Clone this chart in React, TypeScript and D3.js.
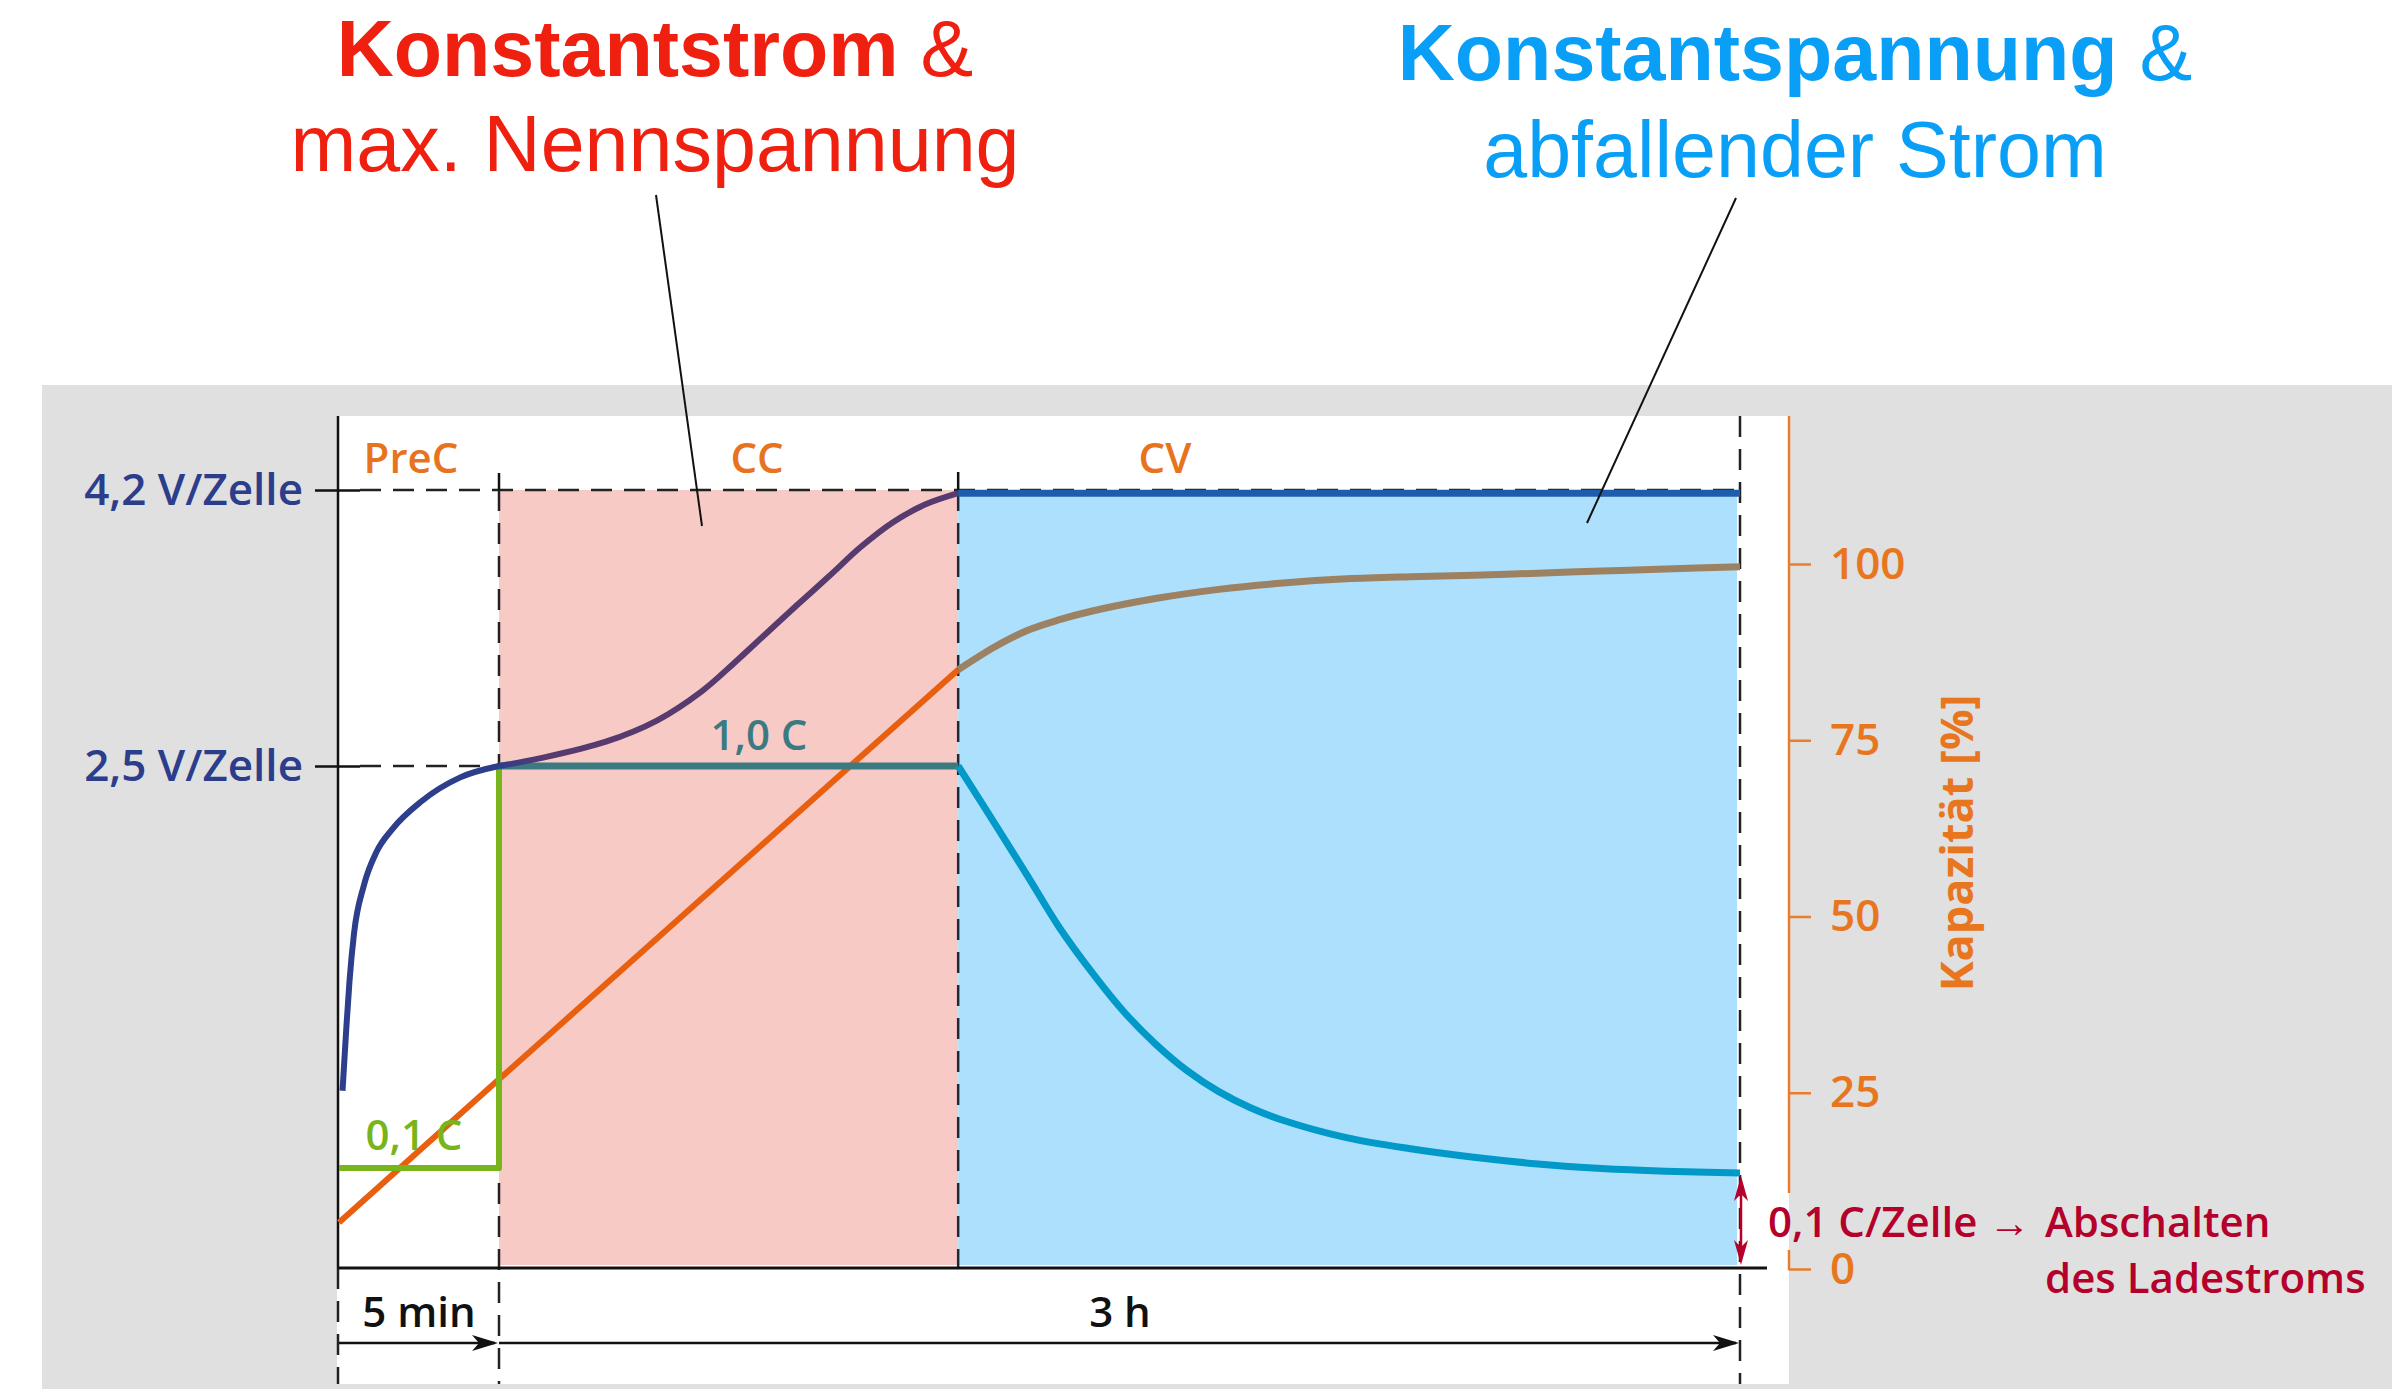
import React, { useEffect, useRef } from 'react';
import * as d3 from 'd3';

// time in minutes: 5 min pre-charge, then 3 h (CC + CV)
const phaseNames = ['PreC', 'CC', 'CV'];
const phaseBounds = [0, 5, 71.6, 185];

// cell voltage (V)
const voltPreT = [0.11, 0.23, 0.33, 0.47, 0.77, 1.17, 1.66, 2.56, 3.79, 5];
const voltPreV = [0.5, 0.89, 1.18, 1.47, 1.76, 1.97, 2.11, 2.28, 2.43, 2.5];
const voltCCT = [5, 11.2, 20.5, 27.9, 34.4, 39.0, 43.6, 48.2, 52.9, 57.5, 62.1, 66.8, 71.6];
const voltCCV = [2.5, 2.55, 2.65, 2.78, 2.96, 3.13, 3.31, 3.49, 3.67, 3.85, 4.0, 4.11, 4.18];
const voltCV = 4.18;
const voltTicks = [4.2, 2.5];
const voltLabels = ['4,2 V/Zelle', '2,5 V/Zelle'];

// charge current (C)
const currPre = 0.1;
const currCC = 1.0;
const currCVT = [71.6, 77.0, 81.7, 86.3, 90.9, 95.5, 100.2, 104.8, 109.4, 114.0, 118.7, 127.9, 137.2, 146.4, 155.7, 164.9, 174.2, 185];
const currCVI = [1.0, 0.869, 0.753, 0.638, 0.54, 0.452, 0.378, 0.318, 0.271, 0.235, 0.207, 0.168, 0.143, 0.124, 0.109, 0.099, 0.093, 0.089];

// capacity (%)
const capLinT = [0, 5, 71.6];
const capLin = [6.6, 26.9, 85.0];
const capCVT = [71.6, 77.0, 81.7, 86.3, 90.9, 100.2, 109.4, 118.7, 127.9, 137.2, 146.4, 155.7, 164.9, 174.2, 185];
const capCV = [85.0, 88.3, 90.6, 92.1, 93.3, 95.1, 96.4, 97.3, 97.9, 98.2, 98.4, 98.7, 99.0, 99.3, 99.6];
const capTicks = [0, 25, 50, 75, 100];

const FONT = '"Open Sans", "Noto Sans", sans-serif';
const TITLE_FONT = '"Liberation Sans", Arial, sans-serif';
const LW = 600;

const App = () => {
  const svgRef = useRef(null);

  useEffect(() => {
    const svg = d3.select(svgRef.current);
    svg.selectAll('*').remove();

    const x = d3.scaleLinear().domain([0, 5, 185]).range([339, 499, 1740]);
    const yV = d3.scaleLinear().domain([2.5, 4.2]).range([766, 490]);
    const yI = d3.scaleLinear().domain([0.1, 1.0]).range([1168, 766]);
    const yC = d3.scaleLinear().domain([0, 100]).range([1269, 564]);
    const axisY = 1268;
    const xEnd = x(185);
    const xPre = x(phaseBounds[1]);
    const xCV = x(phaseBounds[2]);

    const defs = svg.append('defs');
    const grad = defs.append('linearGradient')
      .attr('id', 'vgrad')
      .attr('gradientUnits', 'userSpaceOnUse')
      .attr('x1', xPre).attr('x2', xPre + 45).attr('y1', 0).attr('y2', 0);
    grad.append('stop').attr('offset', 0).attr('stop-color', '#2c3e8c');
    grad.append('stop').attr('offset', 1).attr('stop-color', '#573a6e');

    // backgrounds
    svg.append('rect').attr('width', 2392).attr('height', 1389).attr('fill', '#fff');
    svg.append('rect').attr('x', 42).attr('y', 385).attr('width', 2350).attr('height', 1004).attr('fill', '#e0e0e0');
    svg.append('rect').attr('x', 337).attr('y', 416).attr('width', 1789 - 337).attr('height', 1384 - 416).attr('fill', '#fff');

    // phase regions
    const top = yV(4.2);
    svg.append('rect').attr('x', xPre).attr('y', top).attr('width', xCV - xPre).attr('height', 1265 - top).attr('fill', '#f8cac6');
    svg.append('rect').attr('x', xCV).attr('y', top).attr('width', xEnd - 3 - xCV).attr('height', 1265 - top).attr('fill', '#ade0fd');

    const dash = '21 12';
    const line = (x1, y1, x2, y2, stroke, w, da) => {
      const l = svg.append('line').attr('x1', x1).attr('y1', y1).attr('x2', x2).attr('y2', y2)
        .attr('stroke', stroke).attr('stroke-width', w);
      if (da) l.attr('stroke-dasharray', da);
      return l;
    };

    // guide lines
    line(360, yV(4.2), xEnd, yV(4.2), '#222', 2.5, dash);
    line(360, yV(2.5), xPre, yV(2.5), '#222', 2.5, dash);
    line(xPre, 473, xPre, top, '#111', 2.5);
    line(xPre, top, xPre, 1384, '#222', 2.5, dash);
    line(xCV, 472, xCV, top, '#111', 2.5);
    line(xCV, top, xCV, axisY, '#1d2a3a', 2.5, dash);
    line(xEnd, 416, xEnd, 1384, '#222', 2.5, dash);
    line(x(0) - 1, 416, x(0) - 1, axisY, '#111', 2.5);
    line(x(0) - 1, axisY, x(0) - 1, 1384, '#222', 2.5, dash);
    line(x(0) - 1, axisY, 1767, axisY, '#111', 3);

    // left axis (voltage)
    const leftAxis = svg.append('g')
      .attr('transform', 'translate(360,0)')
      .call(d3.axisLeft(yV).tickValues(voltTicks).tickSize(45).tickPadding(12)
        .tickFormat((d, i) => voltLabels[i]));
    leftAxis.select('.domain').remove();
    leftAxis.selectAll('line').attr('stroke', '#111').attr('stroke-width', 2.5);
    leftAxis.selectAll('text').attr('fill', '#2b3d8b').style('font-family', FONT)
      .style('font-size', '44px').style('font-weight', LW);

    // right axis (capacity)
    const rightAxis = svg.append('g')
      .attr('transform', 'translate(1789,0)')
      .call(d3.axisRight(yC).tickValues(capTicks).tickSize(22).tickPadding(19));
    rightAxis.select('.domain').remove();
    rightAxis.selectAll('line').attr('stroke', '#ea7d2c').attr('stroke-width', 2.5);
    rightAxis.selectAll('text').attr('fill', '#e8761e').style('font-family', FONT)
      .style('font-size', '44px').style('font-weight', LW);
    line(1789, 416, 1789, 1193, '#ea7d2c', 2.5);
    line(1789, 1250, 1789, yC(0) + 1.2, '#ea7d2c', 2.5);

    svg.append('text')
      .attr('transform', 'translate(1973,843) rotate(-90)')
      .attr('text-anchor', 'middle')
      .attr('fill', '#e8761e')
      .style('font-family', FONT).style('font-size', '45px').style('font-weight', 700)
      .text('Kapazität [%]');

    const smooth = d3.curveCatmullRom.alpha(0.5);
    const path = (pts, stroke, w, curve) => svg.append('path')
      .attr('d', d3.line().x(d => x(d[0])).y(d => d[1]).curve(curve || d3.curveLinear)(pts))
      .attr('fill', 'none').attr('stroke', stroke).attr('stroke-width', w)
      .attr('stroke-linejoin', 'round');

    // capacity
    path(capLinT.map((t, i) => [t, yC(capLin[i])]), '#e8600f', 6);
    path(capCVT.map((t, i) => [t, yC(capCV[i])]), '#9c8262', 7, smooth);

    // current
    path([[0, yI(currPre)], [5, yI(currPre)], [5, yI(currCC)]], '#78b41c', 6);
    path([[5, yI(currCC)], [phaseBounds[2], yI(currCC)]], '#3c7a82', 7);
    path(currCVT.map((t, i) => [t, yI(currCVI[i])]), '#0099c8', 7, smooth);

    // voltage
    path(voltPreT.map((t, i) => [t, yV(voltPreV[i])]), '#2c3e8c', 6, d3.curveMonotoneX);
    path(voltCCT.map((t, i) => [t, yV(voltCCV[i])]), 'url(#vgrad)', 6, smooth);
    path([[phaseBounds[2], yV(voltCV)], [185, yV(voltCV)]], '#1e5cae', 7);

    // phase labels
    const phaseX = [411, 757, 1165];
    phaseNames.forEach((n, i) => {
      svg.append('text').attr('x', phaseX[i]).attr('y', 473).attr('text-anchor', 'middle')
        .attr('fill', '#e8731e').style('font-family', FONT).style('font-size', '42px')
        .style('font-weight', LW).text(n);
    });

    svg.append('text').attr('x', 759).attr('y', 750).attr('text-anchor', 'middle')
      .attr('fill', '#3c7a82').style('font-family', FONT).style('font-size', '42px')
      .style('font-weight', LW).text('1,0 C');
    svg.append('text').attr('x', 414).attr('y', 1150).attr('text-anchor', 'middle')
      .attr('fill', '#78b41c').style('font-family', FONT).style('font-size', '42px')
      .style('font-weight', LW).text('0,1 C');

    // time spans
    const arrowHead = (tipX, tipY, dir, color) => {
      svg.append('path')
        .attr('d', `M${tipX},${tipY} L${tipX - dir * 26},${tipY - 8} L${tipX - dir * 19},${tipY} L${tipX - dir * 26},${tipY + 8} Z`)
        .attr('fill', color);
    };
    const arrY = 1343;
    line(x(0), arrY, xPre - 4, arrY, '#111', 2.5);
    arrowHead(xPre - 1, arrY, 1, '#111');
    line(xPre, arrY, xEnd - 4, arrY, '#111', 2.5);
    arrowHead(xEnd - 1, arrY, 1, '#111');
    svg.append('text').attr('x', (x(0) + xPre) / 2).attr('y', 1327).attr('text-anchor', 'middle')
      .attr('fill', '#111').style('font-family', FONT).style('font-size', '42px')
      .style('font-weight', LW).text('5 min');
    svg.append('text').attr('x', 1120).attr('y', 1327).attr('text-anchor', 'middle')
      .attr('fill', '#111').style('font-family', FONT).style('font-size', '42px')
      .style('font-weight', LW).text('3 h');

    // cut-off marker
    const red = '#b5002b';
    const yEndI = yI(currCVI[currCVI.length - 1]);
    const ax = xEnd + 1;
    line(ax, yEndI + 10, ax, axisY - 10, red, 2.5);
    svg.append('path')
      .attr('d', `M${ax},${yEndI + 3} L${ax - 7},${yEndI + 28} L${ax},${yEndI + 21} L${ax + 7},${yEndI + 28} Z`)
      .attr('fill', red);
    svg.append('path')
      .attr('d', `M${ax},${axisY - 3} L${ax - 7},${axisY - 28} L${ax},${axisY - 21} L${ax + 7},${axisY - 28} Z`)
      .attr('fill', red);
    const cut = svg.append('text').attr('y', 1237).attr('fill', red)
      .style('font-family', FONT).style('font-size', '42px').style('font-weight', LW);
    cut.append('tspan').attr('x', 1768).text('0,1 C/Zelle →');
    cut.append('tspan').attr('x', 2045).text('Abschalten');
    svg.append('text').attr('x', 2045).attr('y', 1293).attr('fill', red)
      .style('font-family', FONT).style('font-size', '42px').style('font-weight', LW)
      .text('des Ladestroms');

    // headline annotations
    const title = (cx, y1, y2, bold, rest, second, color) => {
      const t1 = svg.append('text').attr('x', cx).attr('y', y1).attr('text-anchor', 'middle')
        .attr('fill', color).style('font-family', TITLE_FONT).style('font-size', '79px');
      t1.append('tspan').style('font-weight', 700).text(bold);
      t1.append('tspan').text(rest);
      svg.append('text').attr('x', cx).attr('y', y2).attr('text-anchor', 'middle')
        .attr('fill', color).style('font-family', TITLE_FONT).style('font-size', '79px').text(second);
    };
    title(655, 76, 171, 'Konstantstrom', ' &', 'max. Nennspannung', '#ef2010');
    title(1795, 80, 177, 'Konstantspannung', ' &', 'abfallender Strom', '#0a9ff6');

    line(656, 195, 702, 526, '#111', 2);
    line(1736, 198, 1587, 523, '#111', 2);
  }, []);

  return (
    <svg ref={svgRef} width={2392} height={1389}
      style={{ position: 'absolute', left: 0, top: 0, display: 'block' }}></svg>
  );
};

export default App;
